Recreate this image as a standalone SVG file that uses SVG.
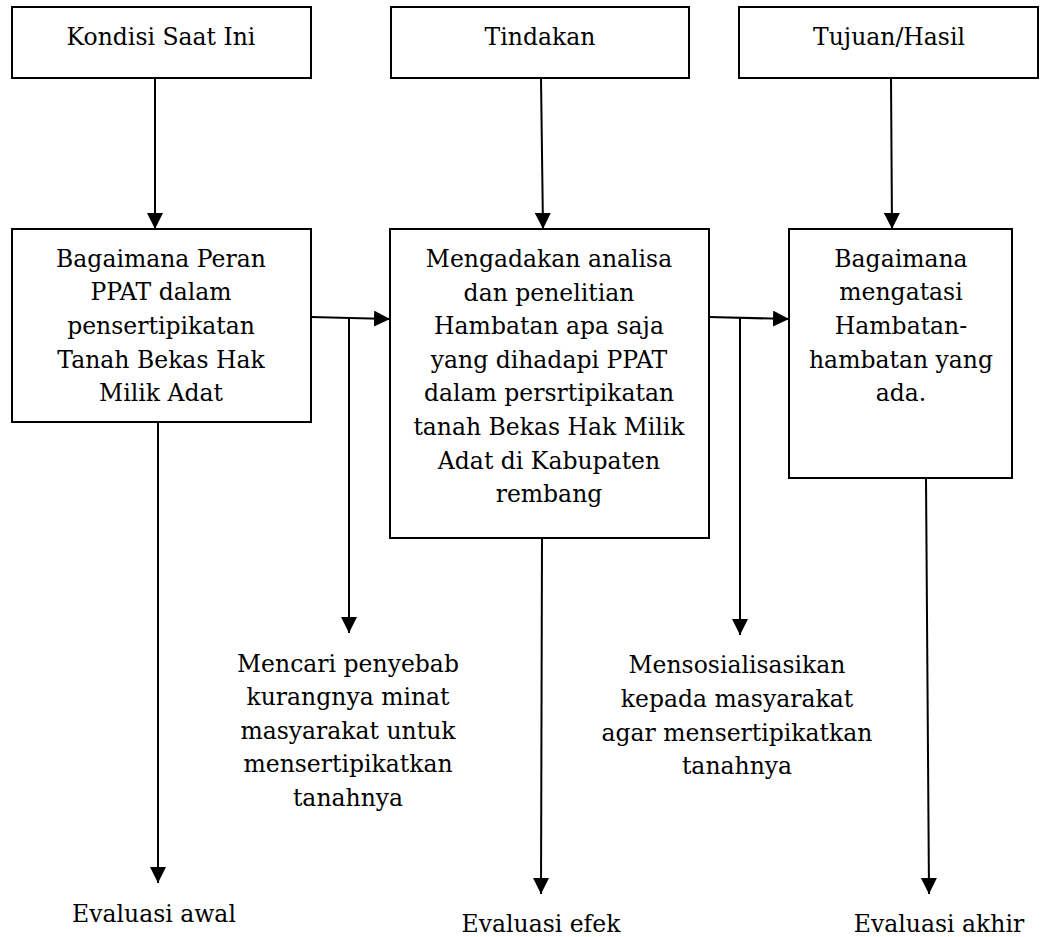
<svg xmlns="http://www.w3.org/2000/svg" width="1041" height="937" viewBox="0 0 1041 937">
<style>
.box{fill:#fff;stroke:#000;stroke-width:2}
.ln{fill:none;stroke:#000;stroke-width:2}
</style>
<defs>
<marker id="ah" markerUnits="userSpaceOnUse" markerWidth="16" markerHeight="16" viewBox="0 0 16 16" refX="16" refY="8" orient="auto">
<path d="M0,0 L16,8 L0,16 Z" fill="#000"/>
</marker>
</defs>
<rect width="1041" height="937" fill="#fff"/>
<g id="connectors">
<path class="ln" d="M155,78 L155,229" marker-end="url(#ah)"/>
<path class="ln" d="M541,78 L543,229" marker-end="url(#ah)"/>
<path class="ln" d="M891,78 L892,229" marker-end="url(#ah)"/>
<path class="ln" d="M311,317 L390,319" marker-end="url(#ah)"/>
<path class="ln" d="M349,318 L349,633" marker-end="url(#ah)"/>
<path class="ln" d="M709,317 L789,319" marker-end="url(#ah)"/>
<path class="ln" d="M740,318 L740,635" marker-end="url(#ah)"/>
<path class="ln" d="M158,422 L158,883" marker-end="url(#ah)"/>
<path class="ln" d="M542,538 L541,894" marker-end="url(#ah)"/>
<path class="ln" d="M926,478 L929,894" marker-end="url(#ah)"/>
</g>
<g font-family="DejaVu Serif, serif" font-size="23.5" text-anchor="middle" fill="#000">
<g id="kondisi">
<rect class="box" x="12" y="7" width="299" height="71"/>
<text x="161" y="45">Kondisi Saat Ini</text>
</g>
<g id="tindakan">
<rect class="box" x="391" y="7" width="298" height="71"/>
<text x="540" y="45">Tindakan</text>
</g>
<g id="tujuan">
<rect class="box" x="739" y="7" width="299" height="71"/>
<text x="889" y="45">Tujuan/Hasil</text>
</g>
<g id="peran">
<rect class="box" x="12" y="229" width="299" height="193"/>
<text x="161" y="267">Bagaimana Peran</text>
<text x="161" y="300">PPAT dalam</text>
<text x="161" y="334">pensertipikatan</text>
<text x="161" y="368">Tanah Bekas Hak</text>
<text x="161" y="401">Milik Adat</text>
</g>
<g id="analisa">
<rect class="box" x="390" y="229" width="319" height="309"/>
<text x="549" y="267">Mengadakan analisa</text>
<text x="549" y="301">dan penelitian</text>
<text x="549" y="334">Hambatan apa saja</text>
<text x="549" y="368">yang dihadapi PPAT</text>
<text x="549" y="401">dalam persrtipikatan</text>
<text x="549" y="435">tanah Bekas Hak Milik</text>
<text x="549" y="469">Adat di Kabupaten</text>
<text x="549" y="502">rembang</text>
</g>
<g id="mengatasi">
<rect class="box" x="789" y="229" width="223" height="249"/>
<text x="901" y="267">Bagaimana</text>
<text x="901" y="300">mengatasi</text>
<text x="901" y="334">Hambatan-</text>
<text x="901" y="368">hambatan yang</text>
<text x="901" y="401">ada.</text>
</g>
<g id="mencari">
<text x="348" y="672">Mencari penyebab</text>
<text x="348" y="705">kurangnya minat</text>
<text x="348" y="739">masyarakat untuk</text>
<text x="348" y="772">mensertipikatkan</text>
<text x="348" y="806">tanahnya</text>
</g>
<g id="mensosialisasikan">
<text x="737" y="673">Mensosialisasikan</text>
<text x="737" y="707">kepada masyarakat</text>
<text x="737" y="741">agar mensertipikatkan</text>
<text x="737" y="774">tanahnya</text>
</g>
<g id="eval-awal"><text x="154" y="922">Evaluasi awal</text></g>
<g id="eval-efek"><text x="541" y="932">Evaluasi efek</text></g>
<g id="eval-akhir"><text x="939" y="932">Evaluasi akhir</text></g>
</g>
</svg>
